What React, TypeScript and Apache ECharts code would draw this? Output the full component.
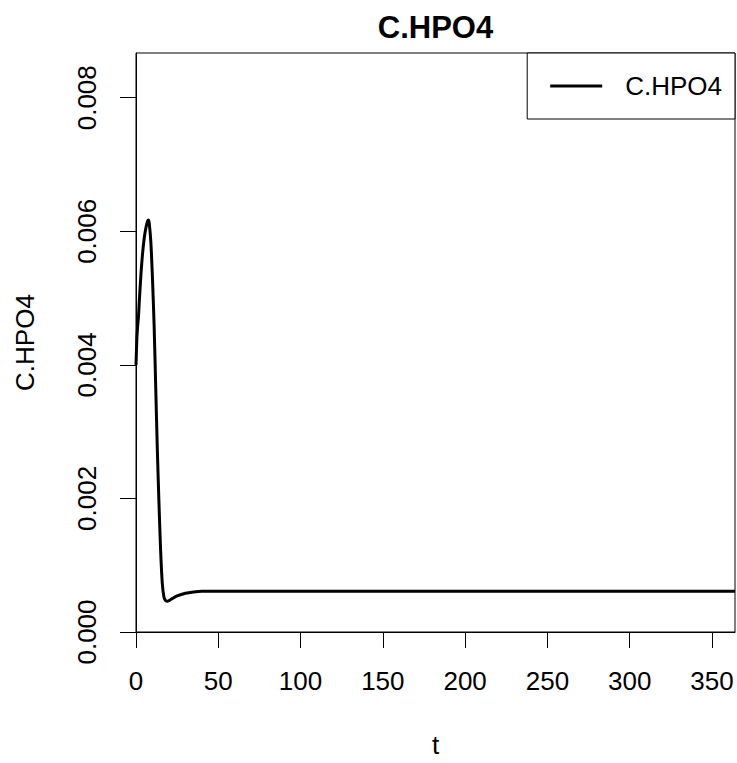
import React, { useEffect, useRef } from "react";
import * as echarts from "echarts";

const tValues = [0, 0.5, 1, 1.5, 2, 3, 4, 5, 6, 7, 7.5, 8, 9, 10, 11, 12, 13, 14, 15, 16, 17, 18, 19, 20, 22, 25, 30, 35, 40, 50, 60, 100, 150, 200, 250, 300, 364];
const cHPO4 = [0.004, 0.00438, 0.00458, 0.00472, 0.00495, 0.00535, 0.00567, 0.0059, 0.00605, 0.00615, 0.00617, 0.00613, 0.00585, 0.0053, 0.0046, 0.00365, 0.0027, 0.0019, 0.0012, 0.00072, 0.00052, 0.00047, 0.00046, 0.00047, 0.0005, 0.00054, 0.00058, 0.0006, 0.00061, 0.00061, 0.00061, 0.00061, 0.00061, 0.00061, 0.00061, 0.00061, 0.00061];
const xTicks = [0, 50, 100, 150, 200, 250, 300, 350];
const yTicks = [0, 0.002, 0.004, 0.006, 0.008];

const FONT = "'Liberation Sans', Arial, sans-serif";

export default function App() {
  const ref = useRef<HTMLDivElement>(null);
  useEffect(() => {
    if (!ref.current) return;
    const chart = echarts.init(ref.current, null, { renderer: "svg" });
    const data = tValues.map((t, i) => [t, cHPO4[i]]);
    chart.setOption({
      animation: false,
      backgroundColor: "#fff",
      textStyle: { fontFamily: FONT },
      title: {
        text: "C.HPO4",
        left: 435.5,
        textAlign: "center",
        top: 12,
        padding: 0,
        textStyle: { fontSize: 31, fontWeight: "bold", color: "#000", fontFamily: FONT },
      },
      legend: {
        data: ["C.HPO4"],
        right: 2,
        top: 53,
        orient: "horizontal",
        padding: [18, 13, 18, 23],
        itemWidth: 52,
        itemHeight: 3,
        icon: "rect",
        borderColor: "#000",
        borderWidth: 1,
        borderRadius: 0,
        backgroundColor: "#fff",
        textStyle: { fontSize: 26, color: "#000", fontFamily: FONT, lineHeight: 30, padding: [0, 0, 0, 18] },
      },
      grid: {
        left: 136,
        top: 53,
        right: 2,
        bottom: 125,
        show: true,
        borderColor: "#000",
        borderWidth: 1,
        containLabel: false,
      },
      xAxis: {
        type: "value",
        min: 0,
        max: 364,
        name: "t",
        nameLocation: "middle",
        nameGap: 100,
        nameTextStyle: { fontSize: 26, color: "#000", fontFamily: FONT },
        axisLine: { show: true, onZero: false, lineStyle: { color: "#000", width: 1 } },
        axisTick: { show: true, length: 16, customValues: xTicks, lineStyle: { color: "#000", width: 1 } },
        axisLabel: { customValues: xTicks, fontSize: 26, color: "#000", margin: 36, fontFamily: FONT },
        splitLine: { show: false },
      },
      yAxis: {
        type: "value",
        min: 0,
        max: 0.00867,
        name: "C.HPO4",
        nameLocation: "middle",
        nameGap: 98,
        nameTextStyle: { fontSize: 26, color: "#000", fontFamily: FONT },
        axisLine: { show: true, onZero: false, lineStyle: { color: "#000", width: 1 } },
        axisTick: { show: true, length: 16, customValues: yTicks, lineStyle: { color: "#000", width: 1 } },
        axisLabel: {
          customValues: yTicks,
          rotate: 90,
          fontSize: 26,
          color: "#000",
          margin: 36,
          fontFamily: FONT,
          formatter: (v: number) => v.toFixed(3),
        },
        splitLine: { show: false },
      },
      series: [
        {
          name: "C.HPO4",
          type: "line",
          data,
          showSymbol: false,
          smooth: 0.3,
          clip: true,
          color: "#000",
          itemStyle: { color: "#000" },
          lineStyle: { color: "#000", width: 3 },
        },
      ],
    });
    return () => chart.dispose();
  }, []);
  return <div ref={ref} style={{ position: "fixed", left: 0, top: 0, width: 737, height: 763 }} />;
}
